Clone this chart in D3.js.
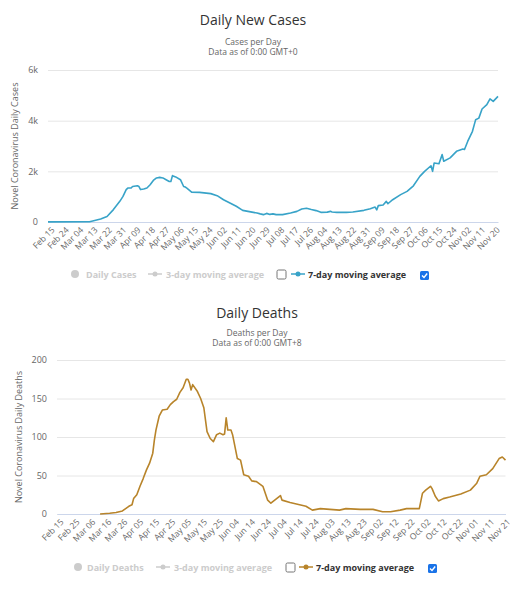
<!DOCTYPE html>
<html>
<head>
<meta charset="utf-8">
<script src="https://cdn.jsdelivr.net/npm/d3@7"></script>
<style>
  html, body { margin: 0; padding: 0; background: #fff; }
  svg { display: block; font-family: "Open Sans", "DejaVu Sans", sans-serif; }
</style>
</head>
<body>
<svg id="chart" width="516" height="592"></svg>
<script>
// ---------- DATA ----------
const caseDates = ["2020-02-15","2020-03-12","2020-03-14","2020-03-19","2020-03-23","2020-03-27","2020-03-31","2020-04-02","2020-04-04","2020-04-05","2020-04-07","2020-04-08","2020-04-11","2020-04-12","2020-04-13","2020-04-15","2020-04-17","2020-04-19","2020-04-21","2020-04-23","2020-04-25","2020-04-27","2020-04-29","2020-05-01","2020-05-02","2020-05-03","2020-05-05","2020-05-08","2020-05-10","2020-05-11","2020-05-12","2020-05-15","2020-05-20","2020-05-27","2020-05-31","2020-06-04","2020-06-08","2020-06-12","2020-06-16","2020-06-21","2020-06-25","2020-06-27","2020-06-29","2020-07-01","2020-07-03","2020-07-05","2020-07-07","2020-07-11","2020-07-16","2020-07-20","2020-07-23","2020-07-26","2020-07-29","2020-08-01","2020-08-04","2020-08-08","2020-08-10","2020-08-11","2020-08-14","2020-08-20","2020-08-24","2020-08-31","2020-09-04","2020-09-07","2020-09-08","2020-09-09","2020-09-12","2020-09-14","2020-09-15","2020-09-18","2020-09-23","2020-09-27","2020-10-01","2020-10-05","2020-10-08","2020-10-12","2020-10-13","2020-10-14","2020-10-17","2020-10-19","2020-10-20","2020-10-24","2020-10-28","2020-11-01","2020-11-02","2020-11-04","2020-11-07","2020-11-09","2020-11-11","2020-11-13","2020-11-16","2020-11-18","2020-11-20","2020-11-23"];
const caseValues = [5,10,40,120,220,490,815,1010,1280,1340,1340,1400,1430,1400,1280,1300,1340,1470,1640,1740,1760,1740,1670,1600,1600,1830,1780,1670,1400,1380,1340,1180,1170,1120,1040,880,750,620,460,400,355,320,290,340,300,320,290,290,355,420,510,540,490,450,380,390,420,395,380,380,395,460,525,590,480,645,670,815,720,880,1080,1210,1430,1800,2000,2220,2000,2330,2300,2660,2400,2530,2790,2880,2860,3180,3580,4040,4100,4460,4630,4860,4760,4960];

const deathDates = ["2020-03-13","2020-03-19","2020-03-23","2020-03-27","2020-03-31","2020-04-02","2020-04-03","2020-04-05","2020-04-07","2020-04-09","2020-04-11","2020-04-13","2020-04-15","2020-04-16","2020-04-17","2020-04-19","2020-04-21","2020-04-24","2020-04-26","2020-04-28","2020-04-30","2020-05-02","2020-05-04","2020-05-06","2020-05-07","2020-05-08","2020-05-09","2020-05-10","2020-05-13","2020-05-15","2020-05-17","2020-05-19","2020-05-21","2020-05-23","2020-05-25","2020-05-27","2020-05-29","2020-05-30","2020-05-31","2020-06-01","2020-06-03","2020-06-04","2020-06-07","2020-06-09","2020-06-11","2020-06-14","2020-06-16","2020-06-19","2020-06-23","2020-06-26","2020-06-28","2020-07-01","2020-07-04","2020-07-05","2020-07-10","2020-07-16","2020-07-20","2020-07-24","2020-07-29","2020-08-04","2020-08-10","2020-08-14","2020-08-23","2020-08-31","2020-09-06","2020-09-11","2020-09-17","2020-09-21","2020-09-29","2020-10-01","2020-10-03","2020-10-06","2020-10-07","2020-10-09","2020-10-11","2020-10-14","2020-10-18","2020-10-25","2020-10-31","2020-11-04","2020-11-06","2020-11-10","2020-11-14","2020-11-18","2020-11-20","2020-11-22"];
const deathValues = [0,1,2,4,10,12,20,25,36,46,57,66,79,96,109,127,135,136,142,146,149,158,164,175,175,170,161,168,159,150,138,107,98,94,103,105,103,104,125,109,109,103,72,70,51,49,43,42,36,18,14,19,24,18,15,12,10,5,7,6,5,7,6,6,3,3,5,7,7,27,31,36,33,23,17,20,22,26,31,40,49,51,59,72,74,70];

const caseTickLabels = ["Feb 15","Feb 24","Mar 04","Mar 13","Mar 22","Mar 31","Apr 09","Apr 18","Apr 27","May 06","May 15","May 24","Jun 02","Jun 11","Jun 20","Jun 29","Jul 08","Jul 17","Jul 26","Aug 04","Aug 13","Aug 22","Aug 31","Sep 09","Sep 18","Sep 27","Oct 06","Oct 15","Oct 24","Nov 02","Nov 11","Nov 20"];
const deathTickLabels = ["Feb 15","Feb 25","Mar 06","Mar 16","Mar 26","Apr 05","Apr 15","Apr 25","May 05","May 15","May 25","Jun 04","Jun 14","Jun 24","Jul 04","Jul 14","Jul 24","Aug 03","Aug 13","Aug 23","Sep 02","Sep 12","Sep 22","Oct 02","Oct 12","Oct 22","Nov 01","Nov 11","Nov 21"];
const caseYTicks = [0, 2000, 4000, 6000];
const deathYTicks = [0, 50, 100, 150, 200];

// ---------- DRAW ----------
const svg = d3.select("#chart");
const parseISO = d3.timeParse("%Y-%m-%d");
const parseLbl = s => d3.timeParse("%b %d %Y")(s + " 2020");

function drawChart(cfg) {
  const g = svg.append("g");
  const x = d3.scaleTime().domain(cfg.xDomain).range([cfg.left, cfg.right]);
  const y = d3.scaleLinear().domain([0, cfg.yMax]).range([cfg.bottom, cfg.top]);

  // titles
  g.append("text").attr("x", cfg.titleX).attr("y", cfg.titleY)
    .attr("text-anchor", "middle").attr("font-size", 14).attr("fill", "#333")
    .text(cfg.title);
  cfg.subtitle.forEach((s, i) => {
    g.append("text").attr("x", cfg.titleX).attr("y", cfg.subY + i * 10)
      .attr("text-anchor", "middle").attr("font-size", 8.5).attr("fill", "#666")
      .text(s);
  });

  // grid + y labels
  const yAxis = d3.axisLeft(y).tickValues(cfg.yTicks).tickSize(-(cfg.right - cfg.left))
    .tickFormat(cfg.yFormat).tickPadding(10);
  const ya = g.append("g").attr("transform", `translate(${cfg.left},0)`).call(yAxis);
  ya.select(".domain").remove();
  ya.selectAll(".tick line").attr("stroke", "#e6e6e6");
  ya.selectAll(".tick text").attr("fill", "#666").attr("font-size", 9)
    .attr("font-family", "Open Sans, sans-serif");

  // x axis
  const xTicks = cfg.xTickLabels.map(parseLbl);
  const xAxis = d3.axisBottom(x).tickValues(xTicks).tickSize(0)
    .tickFormat(d3.timeFormat("%b %d"));
  const xa = g.append("g").attr("transform", `translate(0,${cfg.bottom})`).call(xAxis);
  xa.select(".domain").attr("stroke", "#ccd6eb");
  xa.selectAll(".tick text").attr("fill", "#666").attr("font-size", 8.5)
    .attr("font-family", "Open Sans, sans-serif")
    .attr("text-anchor", "end")
    .attr("transform", "translate(3,5) rotate(-45)")
    .attr("dy", "0.6em").attr("y", 0).attr("x", 0);

  // y title
  g.append("text")
    .attr("transform", `translate(${cfg.yTitleX},${(cfg.top + cfg.bottom) / 2}) rotate(-90)`)
    .attr("text-anchor", "middle").attr("font-size", 9).attr("fill", "#666")
    .text(cfg.yTitle);

  // line
  const pts = cfg.dates.map((d, i) => ({ d: parseISO(d), v: cfg.values[i] }));
  const line = d3.line().x(p => x(p.d)).y(p => y(p.v));
  g.append("path").datum(pts).attr("d", line)
    .attr("fill", "none").attr("stroke", cfg.color).attr("stroke-width", 1.6)
    .attr("stroke-linejoin", "round");

  // legend
  const L = cfg.legend, ly = cfg.legendY;
  g.append("circle").attr("cx", L.dot).attr("cy", ly).attr("r", 4).attr("fill", "#cccccc");
  g.append("text").attr("x", L.dailyX).attr("y", ly + 3.5).attr("font-size", 9)
    .attr("font-weight", "bold").attr("fill", "#cccccc").text(cfg.dailyLabel);
  g.append("line").attr("x1", L.ma3).attr("x2", L.ma3 + 14).attr("y1", ly).attr("y2", ly)
    .attr("stroke", "#cccccc").attr("stroke-width", 1.5);
  g.append("circle").attr("cx", L.ma3 + 7).attr("cy", ly).attr("r", 2.5).attr("fill", "#cccccc");
  g.append("text").attr("x", L.ma3 + 18).attr("y", ly + 3.5).attr("font-size", 9)
    .attr("font-weight", "bold").attr("fill", "#cccccc").text("3-day moving average");
  g.append("rect").attr("x", L.box1).attr("y", ly - 4).attr("width", 9).attr("height", 9)
    .attr("rx", 1.5).attr("fill", "#fff").attr("stroke", "#767676").attr("stroke-width", 1);
  g.append("line").attr("x1", L.ma7).attr("x2", L.ma7 + 14).attr("y1", ly).attr("y2", ly)
    .attr("stroke", cfg.color).attr("stroke-width", 1.5);
  g.append("circle").attr("cx", L.ma7 + 7).attr("cy", ly).attr("r", 2.5).attr("fill", cfg.color);
  g.append("text").attr("x", L.ma7 + 17).attr("y", ly + 3.5).attr("font-size", 9)
    .attr("font-weight", "bold").attr("fill", "#333").text("7-day moving average");
  g.append("rect").attr("x", L.box2).attr("y", ly - 3).attr("width", 9).attr("height", 9)
    .attr("rx", 1.5).attr("fill", "#1a73e8");
  g.append("path").attr("d", `M${L.box2 + 2},${ly + 1.5} L${L.box2 + 4},${ly + 3.5} L${L.box2 + 7.2},${ly - 0.5}`)
    .attr("fill", "none").attr("stroke", "#fff").attr("stroke-width", 1.4);
}

drawChart({
  title: "Daily New Cases", subtitle: ["Cases per Day", "Data as of 0:00 GMT+0"],
  titleX: 253, titleY: 25, subY: 45,
  left: 48, right: 498, top: 70, bottom: 222,
  xDomain: [parseISO("2020-02-15"), parseISO("2020-11-23")],
  yMax: 6000, yTicks: caseYTicks, yFormat: d => d === 0 ? "0" : (d / 1000) + "k",
  xTickLabels: caseTickLabels, yTitle: "Novel Coronavirus Daily Cases", yTitleX: 18,
  dates: caseDates, values: caseValues, color: "#38a3c8",
  dailyLabel: "Daily Cases", legendY: 274,
  legend: { dot: 75, dailyX: 86, ma3: 148, box1: 277, ma7: 291, box2: 420 }
});

drawChart({
  title: "Daily Deaths", subtitle: ["Deaths per Day", "Data as of 0:00 GMT+8"],
  titleX: 257, titleY: 318, subY: 336,
  left: 57, right: 505.5, top: 360, bottom: 514,
  xDomain: [parseISO("2020-02-15"), parseISO("2020-11-22")],
  yMax: 200, yTicks: deathYTicks, yFormat: d => String(d),
  xTickLabels: deathTickLabels, yTitle: "Novel Coronavirus Daily Deaths", yTitleX: 22,
  dates: deathDates, values: deathValues, color: "#b8842a",
  dailyLabel: "Daily Deaths", legendY: 567,
  legend: { dot: 78, dailyX: 87, ma3: 156, box1: 286, ma7: 299, box2: 428 }
});
</script>
</body>
</html>
